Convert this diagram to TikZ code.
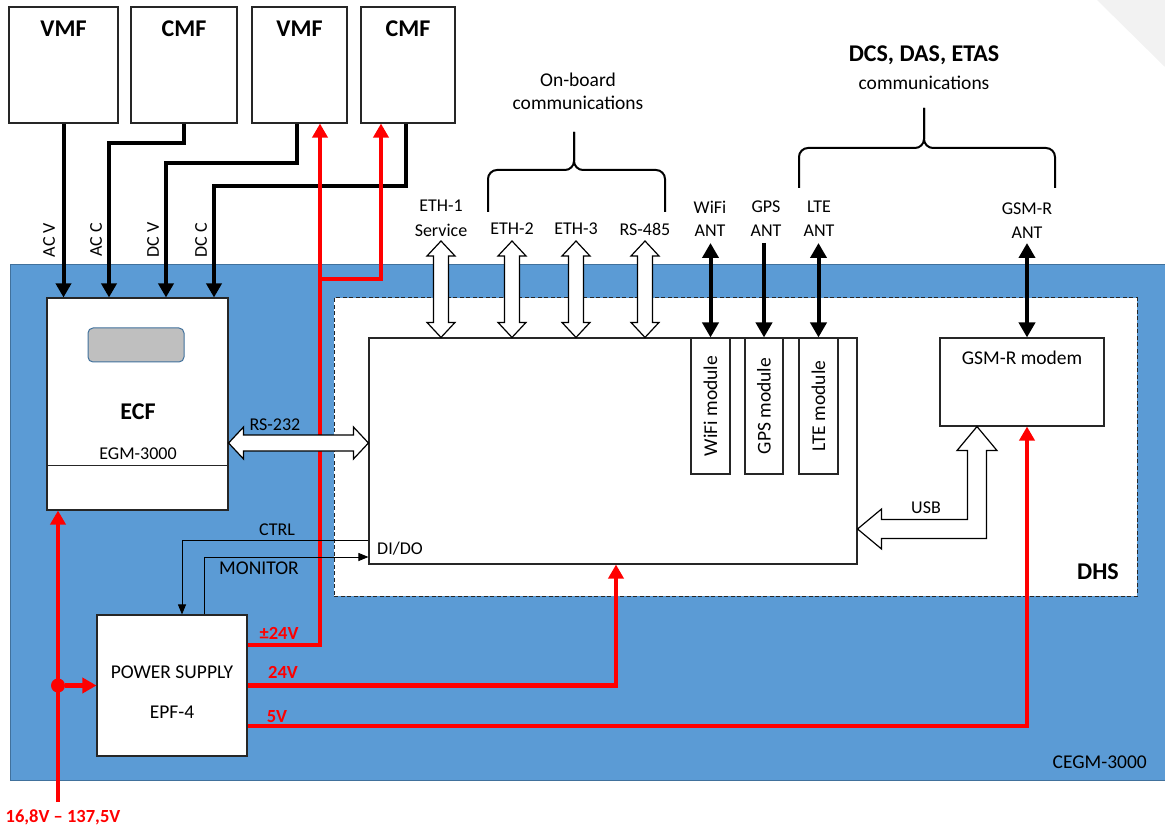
\documentclass[tikz,border=0pt]{standalone}
\usepackage{fontspec}
\setmainfont{Carlito}
\usetikzlibrary{arrows.meta,calc}
\definecolor{cblue}{HTML}{5B9BD5}
\definecolor{cblueb}{HTML}{41719C}
\definecolor{cred}{HTML}{FF0000}
\definecolor{cgray}{HTML}{BFBFBF}
\definecolor{ccorner}{HTML}{F2F2F2}
\newcommand\vdarrow[2]{\draw[fat] let \p1=#1, \p2=#2 in (\x1,\y1) -- ++(14pt,-15pt) -- ++(-6.5pt,0pt) -- (\x1+7.5pt,\y2+15pt) -- ++(6.5pt,0pt) -- (\x1,\y2) -- ++(-14pt,15pt) -- ++(6.5pt,0pt) -- (\x1-7.5pt,\y1-15pt) -- ++(-6.5pt,0pt) -- cycle;}
\newcommand\hdarrow[2]{\draw[fat] let \p1=#1, \p2=#2 in (\x1,\y1) -- ++(15pt,16pt) -- ++(0pt,-8pt) -- (\x2-15pt,\y1+8pt) -- ++(0pt,8pt) -- (\x2,\y1) -- ++(-15pt,-16pt) -- ++(0pt,8pt) -- (\x1+15pt,\y1-8pt) -- ++(0pt,-8pt) -- cycle;}
\begin{document}
\begin{tikzpicture}[x=1pt,y=-1pt,
 box/.style={draw=black!85, fill=white, line width=1.1pt, inner sep=0pt},
 lbl/.style={font=\fontsize{18}{21}\selectfont, inner sep=0pt},
 mlbl/.style={font=\fontsize{19.5}{23}\selectfont, inner sep=0pt},
 blbl/.style={font=\fontsize{24}{28}\selectfont\bfseries, inner sep=0pt},
 rlbl/.style={font=\fontsize{18.5}{22}\selectfont\bfseries, text=cred, inner sep=0pt},
 sig/.style={line width=4pt, -{Triangle[width=15pt,length=14pt]}},
 pwr/.style={draw=cred, line width=4.5pt, -{Triangle[width=15pt,length=14pt]}},
 ant/.style={line width=4pt, {Triangle[width=16pt,length=15pt]}-{Triangle[width=16pt,length=15pt]}},
 antone/.style={line width=4pt, -{Triangle[width=16pt,length=15pt]}},
 thinarr/.style={line width=0.9pt, -{Triangle[width=8pt,length=10pt]}},
 fat/.style={draw=black, fill=white, line width=1.2pt, line join=miter},
 brace/.style={line width=2pt, rounded corners=9pt},
]
\useasboundingbox (0,0) rectangle (1165,826);
\fill[ccorner] (1097,0) -- (1165,0) -- (1165,67) -- cycle;

% outer blue box
\node[fill=cblue, draw=cblueb, line width=1pt, minimum width=1162pt, minimum height=515pt, inner sep=0pt] (cegm) at (591,522.5) {};
\node[mlbl, anchor=east] at (1147,762) {CEGM-3000};

% DHS dashed area
\node[draw=black!85, dashed, dash pattern=on 4pt off 2.5pt, fill=white, line width=1pt, minimum width=803pt, minimum height=298pt, inner sep=0pt] (dhs) at (735.5,447) {};
\node[blbl] at (1098,572) {DHS};

% top boxes
\node[box, minimum width=109pt, minimum height=116pt] (vmf1) at (63.5,65) {};
\node[box, minimum width=106pt, minimum height=116pt] (cmf1) at (184,65) {};
\node[box, minimum width=95pt, minimum height=116pt] (vmf2) at (299.5,65) {};
\node[box, minimum width=94pt, minimum height=116pt] (cmf2) at (408,65) {};
\node[blbl] at ([yshift=-22pt]vmf1.north) {VMF};
\node[blbl] at ([yshift=-22pt]cmf1.north) {CMF};
\node[blbl] at ([yshift=-22pt]vmf2.north) {VMF};
\node[blbl] at ([yshift=-22pt]cmf2.north) {CMF};

% ECF
\node[box, minimum width=181pt, minimum height=212pt] (ecf) at (137.5,404) {};
\draw[line width=1pt, black!85] ([yshift=-61pt]ecf.west) -- ([yshift=-61pt]ecf.east);
\node[draw=cblueb, fill=cgray, rounded corners=5pt, minimum width=96pt, minimum height=34pt, line width=1pt, inner sep=0pt] (disp) at (136,345) {};
\node[blbl] at (138,412) {ECF};
\node[lbl] at (138,454) {EGM-3000};

% main DHS box and modules
\node[box, minimum width=488pt, minimum height=226pt] (main) at (613,451) {};
\node[box, minimum width=39pt, minimum height=136pt] (wifi) at (710.5,406) {};
\node[box, minimum width=38pt, minimum height=136pt] (gps) at (764,406) {};
\node[box, minimum width=39pt, minimum height=136pt] (lte) at (818.5,406) {};
\node[mlbl, rotate=90] at (wifi) {WiFi module};
\node[mlbl, rotate=90] at (gps) {GPS module};
\node[mlbl, rotate=90] at (lte) {LTE module};
\node[box, minimum width=164pt, minimum height=88pt] (gsm) at (1022,382) {};
\node[mlbl] at (1022,358) {GSM-R modem};
\node[lbl, anchor=west] at (377,549) {DI/DO};

% power supply
\node[box, minimum width=150pt, minimum height=141pt] (ps) at (172,685.5) {};
\node[mlbl] at (172,672) {POWER SUPPLY};
\node[mlbl] at (172,712) {EPF-4};

% measurement lines
\draw[sig] (vmf1.south) -- (vmf1.south |- ecf.north);
\draw[sig] (cmf1.south) |- (109,143) -- ([xshift=-28.5pt]ecf.north);
\draw[sig] ([xshift=-2.5pt]vmf2.south) |- (166,163) -- ([xshift=28.5pt]ecf.north);
\draw[sig] ([xshift=-2pt]cmf2.south) |- (214,186) -- ([xshift=76.5pt]ecf.north);
\node[lbl, rotate=90] at (49,240) {AC V};
\node[lbl, rotate=90] at (96,240) {AC C};
\node[lbl, rotate=90] at (153,240) {DC V};
\node[lbl, rotate=90] at (201,240) {DC C};

% power lines
\coordinate (vin) at (58,802);
\draw[pwr] (vin) -- (vin |- ecf.south);
\node[circle, fill=cred, inner sep=0pt, minimum size=14pt] (junc) at (vin |- ps.west) {};
\draw[pwr] (junc) -- (ps.west);
\node[rlbl] at (63,817) {16,8V – 137,5V};
\draw[pwr] ([yshift=40.5pt]ps.east) -| ([xshift=20.5pt]vmf2.south);
\coordinate (split) at (320,279);
\draw[pwr] (split) -| ([xshift=-27pt]cmf2.south);
\draw[pwr] (ps.east) -| ([xshift=3pt]main.south);
\draw[pwr] ([yshift=-40.5pt]ps.east) -| ([xshift=5pt]gsm.south);
\node[rlbl] at (279,633) {±24V};
\node[rlbl] at (283,672) {24V};
\node[rlbl] at (277,717) {5V};

% control lines
\draw[thinarr] ([yshift=-89pt]main.west) -| ([xshift=10pt]ps.north);
\draw[thinarr] ([xshift=32pt]ps.north) |- ([yshift=-106pt]main.west);
\node[lbl] at (277,530) {CTRL};
\node[mlbl] at (259,568) {MONITOR};

% RS-232
\coordinate (rsl) at ([yshift=-39pt]ecf.east);
\hdarrow{(rsl)}{(rsl -| main.west)}
\node[lbl] at (275,425) {RS-232};

% on-board comms
\coordinate (e1) at (441,241);
\coordinate (e2) at (512,241);
\coordinate (e3) at (576,241);
\coordinate (e4) at (645,241);
\vdarrow{(e1)}{(e1 |- main.north)}
\vdarrow{(e2)}{(e2 |- main.north)}
\vdarrow{(e3)}{(e3 |- main.north)}
\vdarrow{(e4)}{(e4 |- main.north)}
\node[lbl] at (441,206) {ETH-1};
\node[lbl] at (441,230) {Service};
\node[lbl] at (512,229) {ETH-2};
\node[lbl] at (576,229) {ETH-3};
\node[lbl] at (645,229) {RS-485};
\draw[brace] (488,212) -- (488,170) -- (574,170) -- (574,132);
\draw[brace] (665,212) -- (665,170) -- (574,170) -- (574,132);
\node[mlbl] at (578,80) {On-board};
\node[mlbl] at (578,103) {communications};

% antennas
\coordinate (wa) at (710.5,243);
\coordinate (ga) at (764,243);
\coordinate (la) at (818.5,243);
\coordinate (gsa) at (1027,243);
\draw[ant] (wa) -- (wifi.north);
\draw[antone] (ga) -- (gps.north);
\draw[ant] (la) -- (lte.north);
\draw[ant] (gsa) -- (gsa |- gsm.north);
\node[lbl] at (710,207) {WiFi};
\node[lbl] at (710,231) {ANT};
\node[lbl] at (766,207) {GPS};
\node[lbl] at (766,231) {ANT};
\node[lbl] at (819,207) {LTE};
\node[lbl] at (819,231) {ANT};
\node[lbl] at (1027,209) {GSM-R};
\node[lbl] at (1027,233) {ANT};
\draw[brace] (799,188) -- (799,148) -- (924,148) -- (924,108);
\draw[brace] (1055,188) -- (1055,148) -- (924,148) -- (924,108);
\node[blbl] at (924,55) {DCS, DAS, ETAS};
\node[mlbl] at (924,83) {communications};

% USB
\coordinate (usbtop) at ([xshift=-45pt]gsm.south);
\coordinate (usbleft) at ([yshift=-78pt]main.east);
\draw[fat] let \p1=(usbtop), \p2=(usbleft) in (\x1,\y1) -- (\x1+20pt,\y1-24pt) -- (\x1+9.5pt,\y1-24pt) -- (\x1+9.5pt,\y2-9.5pt) -- (\x2+24pt,\y2-9.5pt) -- (\x2+24pt,\y2-20pt) -- (\x2,\y2) -- (\x2+24pt,\y2+20pt) -- (\x2+24pt,\y2+9.5pt) -- (\x1-9.5pt,\y2+9.5pt) -- (\x1-9.5pt,\y1-24pt) -- (\x1-20pt,\y1-24pt) -- cycle;
\node[lbl] at (926,508) {USB};
\end{tikzpicture}
\end{document}
